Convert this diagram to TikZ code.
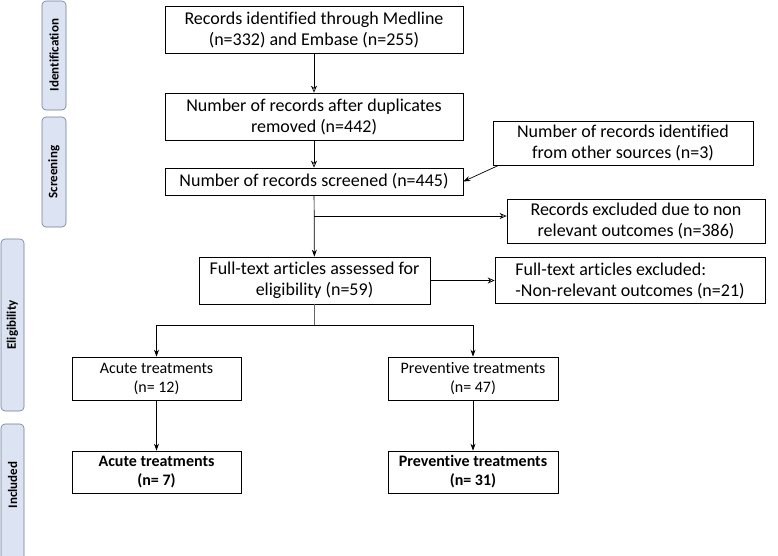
\documentclass[tikz,border=0pt]{standalone}
\usepackage{fontspec}
\setmainfont{Carlito}[Ligatures=NoCommon]
\usetikzlibrary{arrows.meta}
\definecolor{barfill}{RGB}{220,227,242}
\definecolor{barline}{RGB}{110,125,150}
\begin{document}
\begin{tikzpicture}[x=1pt,y=-1pt,
 bar/.style={draw=barline,fill=barfill,rounded corners=4pt,line width=0.6pt},
 bl/.style={rotate=90,font=\bfseries\fontsize{13}{15}\selectfont},
 box/.style={draw,line width=0.7pt,align=center,font=\fontsize{18}{21}\selectfont},
 sbox/.style={draw,line width=0.7pt,align=center,font=\fontsize{16}{19}\selectfont},
 ar/.style={-{Stealth[length=7pt,width=6pt,open]},line width=0.7pt},
 arf/.style={-{Stealth[length=7pt,width=5pt]},line width=0.7pt}]
\useasboundingbox (0,0) rectangle (778,555);
\draw[bar] (42,1) rectangle (66,110); \node[bl] (id) at (54,55) {Identification};
\draw[bar] (42,117) rectangle (66,227); \node[bl] (sc) at (54,172) {Screening};
\draw[bar] (1,239) rectangle (24,411); \node[bl] (el) at (12.5,325) {Eligibility};
\draw[bar] (1,424) rectangle (24,560); \node[bl] (in) at (12.5,485) {Included};
\node[box,minimum width=298,minimum height=47] (b1) at (314,29.5) {Records identified through Medline\\(n=332) and Embase (n=255)};
\node[box,minimum width=298,minimum height=47] (b2) at (314,116.5) {Number of records after duplicates\\removed (n=442)};
\node[box,minimum width=298,minimum height=27] (b3) at (314,181.5) {Number of records screened (n=445)};
\node[box,minimum width=260,minimum height=44] (os) at (623,143) {Number of records identified\\from other sources (n=3)};
\node[box,minimum width=258,minimum height=44] (ex) at (636,221) {Records excluded due to non\\relevant outcomes (n=386)};
\node[box,minimum width=231,minimum height=47] (ft) at (314.5,280.5) {Full-text articles assessed for\\eligibility (n=59)};
\node[box,minimum width=270,minimum height=46,align=left] (fx) at (630,280.5) {Full-text articles excluded:\\-Non-relevant outcomes (n=21)};
\node[sbox,minimum width=169,minimum height=43] (a1) at (156.5,378.5) {Acute treatments\\(n= 12)};
\node[sbox,minimum width=170,minimum height=43] (p1) at (473,378.5) {Preventive treatments\\(n= 47)};
\node[sbox,minimum width=169,minimum height=42,font=\bfseries\fontsize{16}{19}\selectfont] (a2) at (156.5,472) {Acute treatments\\(n= 7)};
\node[sbox,minimum width=170,minimum height=42,font=\bfseries\fontsize{16}{19}\selectfont] (p2) at (473,472) {Preventive treatments\\(n= 31)};
\coordinate (j1) at (314,216);
\coordinate (j2) at (314.5,325);
\draw[ar] (b1) -- (b2);
\draw[ar] (b2) -- (b3);
\draw[arf] (os.south west) ++(6,0) coordinate (o1) -- (b3.east);
\draw[arf] (b3) -- (ft);
\draw[ar] (j1) -- (j1 -| ex.west);
\draw[ar] (ft) -- (fx);
\draw[line width=0.7pt,black!60] (ft) -- (j2);
\draw[arf] (j2) -| (a1);
\draw[arf] (j2) -| (p1);
\draw[arf] (a1) -- (a2);
\draw[arf] (p1) -- (p2);
\end{tikzpicture}
\end{document}
